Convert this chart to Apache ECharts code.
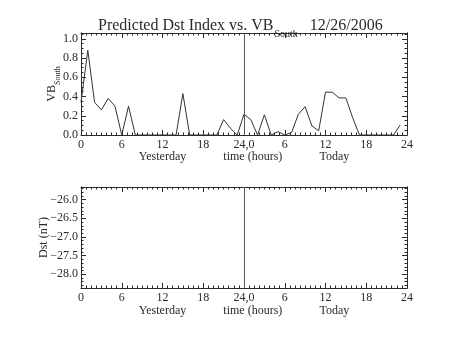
<!DOCTYPE html>
<html><head><meta charset="utf-8">
<script src="https://cdn.jsdelivr.net/npm/echarts@6/dist/echarts.min.js"></script>
<style>html,body{margin:0;padding:0;background:#fff}#c{width:453px;height:340px}</style>
</head><body><div id="c"></div>
<script>
// ---- data ----
const hours = [0,1,2,3,4,5,6,7,8,9,10,11,12,13,14,15,16,17,18,19,20,21,22,23,
               24,25,26,27,28,29,30,31,32,33,34,35,36,37,38,39,40,41,42,43,44,45,46,47];
const vbSouth = [0.34,0.88,0.34,0.26,0.38,0.30,0.00,0.30,0.00,0.00,0.00,0.00,0.00,0.00,0.00,0.43,
                 0.00,0.00,0.00,0.00,0.00,0.16,0.07,0.00,0.215,0.16,0.00,0.21,0.00,0.035,0.00,0.025,
                 0.215,0.295,0.094,0.045,0.445,0.445,0.385,0.385,0.18,0.00,0.00,0.00,0.00,0.00,0.00,0.104];
const dstValues = []; // no Dst values plotted
const xTicks = [0,6,12,18,24,30,36,42,48];
const vbTicks = [0,0.2,0.4,0.6,0.8,1.0];
const vbMinor = [0.05,0.1,0.15,0.25,0.3,0.35,0.45,0.5,0.55,0.65,0.7,0.75,0.85,0.9,0.95,1.05];
const dstTicks = [-28.0,-27.5,-27.0,-26.5,-26.0];
const dstMinor = [-28.3,-28.2,-28.1,-27.9,-27.8,-27.7,-27.6,-27.4,-27.3,-27.2,-27.1,-26.9,-26.8,-26.7,-26.6,-26.4,-26.3,-26.2,-26.1,-25.9,-25.8,-25.7];
const dayAfter = 24;

const FONT = 'Liberation Serif';
const INK = '#2a2a2a';
const chart = echarts.init(document.getElementById('c'), null, {renderer:'canvas'});

function xAx(grid, pos, labels){
  return {type:'value', gridIndex:grid, position:pos, min:0, max:48, interval:6,
    axisLine:{show:true, onZero:false, lineStyle:{color:INK, width:1}},
    axisTick:{show:true, inside:true, length:5, lineStyle:{color:INK}},
    minorTick:{show:true, splitNumber:8, length:2.5, lineStyle:{color:INK}},
    splitLine:{show:false},
    axisLabel:{show:labels, margin:4, fontFamily:FONT, fontSize:12, color:INK,
      formatter:v=> v<24 ? String(v) : (v===24 ? '24,0' : String(v-24))}};
}
function yAx(grid, pos, min, max, ticks, len, labels, extra){
  return Object.assign({type:'value', gridIndex:grid, position:pos, min:min, max:max,
    axisLine:{show:true, onZero:false, lineStyle:{color:INK, width:1}},
    axisTick:{show:true, inside:true, length:len, customValues:ticks, lineStyle:{color:INK}},
    splitLine:{show:false},
    axisLabel:{show:labels, customValues:ticks, margin:3, fontFamily:FONT, fontSize:12, color:INK,
      formatter:v=> (v<0?'\u2212':'') + Math.abs(v).toFixed(1)}}, extra||{});
}

const option = {
  backgroundColor:'#fff',
  animation:false,
  title:{
    text:'{m|Predicted Dst Index vs. VB}{s|South}{m|   12/26/2006}',
    left:93, top:13,
    textStyle:{fontWeight:'normal', rich:{
      m:{fontFamily:FONT, fontSize:16, fontWeight:'normal', color:INK, lineHeight:18, verticalAlign:'top'},
      s:{fontFamily:FONT, fontSize:10, fontWeight:'normal', color:INK, lineHeight:18, padding:[11,0,0,1], verticalAlign:'top'}
    }}
  },
  grid:[
    {left:81, top:33, width:326, height:102},
    {left:81, top:187, width:326, height:101}
  ],
  xAxis:[ xAx(0,'bottom',true), xAx(0,'top',false), xAx(1,'bottom',true), xAx(1,'top',false) ],
  yAxis:[
    yAx(0,'left',0,1.06,vbTicks,5,true,{
      name:'{m|VB}{s|South}', nameLocation:'middle', nameGap:21, nameMoveOverlap:false,
      nameTextStyle:{rich:{
        m:{fontFamily:FONT, fontSize:12, color:INK, lineHeight:14, verticalAlign:'top'},
        s:{fontFamily:FONT, fontSize:8, color:INK, lineHeight:14, padding:[8,0,0,0], verticalAlign:'top'}}}}),
    yAx(0,'left',0,1.06,vbMinor,2.5,false),
    yAx(0,'right',0,1.06,vbTicks,5,false),
    yAx(0,'right',0,1.06,vbMinor,2.5,false),
    yAx(1,'left',-28.37,-25.66,dstTicks,5,true,{
      name:'Dst (nT)', nameLocation:'middle', nameGap:31, nameMoveOverlap:false,
      nameTextStyle:{fontFamily:FONT, fontSize:12, color:INK}}),
    yAx(1,'left',-28.37,-25.66,dstMinor,2.5,false),
    yAx(1,'right',-28.37,-25.66,dstTicks,5,false),
    yAx(1,'right',-28.37,-25.66,dstMinor,2.5,false)
  ],
  series:[
    {type:'line', xAxisIndex:0, yAxisIndex:0, showSymbol:false, symbol:'none',
     data:hours.map((h,i)=>[h, vbSouth[i]]),
     lineStyle:{color:'#333', width:1},
     markLine:{silent:true, symbol:'none', label:{show:false},
       lineStyle:{color:'#555', type:'solid', width:1}, data:[{xAxis:dayAfter}]}},
    {type:'line', xAxisIndex:2, yAxisIndex:4, showSymbol:false, symbol:'none',
     data:dstValues.map((v,i)=>[hours[i], v]),
     lineStyle:{color:'#333', width:1},
     markLine:{silent:true, symbol:'none', label:{show:false},
       lineStyle:{color:'#555', type:'solid', width:1}, data:[{xAxis:dayAfter}]}}
  ]
};
chart.setOption(option);

// day/axis captions under each panel, centred on positions along the x axes
function captions(){
  const items = [];
  [[0,157],[2,311]].forEach(([xi,y])=>{
    [['Yesterday',12],['time (hours)',25.3],['Today',37.3]].forEach(([t,h])=>{
      const px = chart.convertToPixel({xAxisIndex:xi}, h);
      items.push({type:'text', x:px, y:y, style:{text:t, fontFamily:FONT, fontSize:12, fill:INK,
        textAlign:'center', textVerticalAlign:'middle'}});
    });
  });
  chart.setOption({graphic:items});
}
captions();
</script></body></html>
